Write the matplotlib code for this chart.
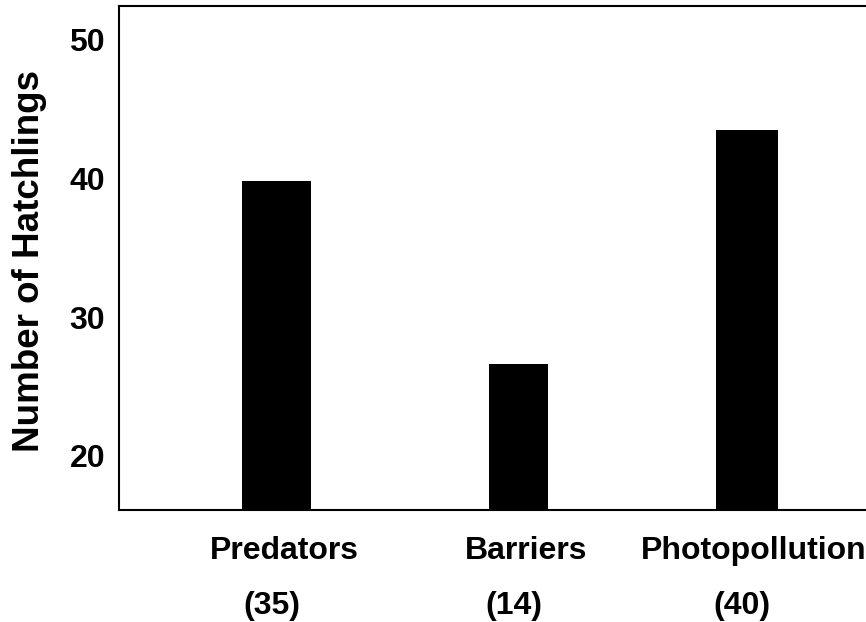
import matplotlib.pyplot as plt
import matplotlib.transforms as mtransforms

# Data
categories = ['Predators', 'Barriers', 'Photopollution']
counts = ['(35)', '(14)', '(40)']
hatchlings = [39.8, 26.6, 43.5]
y_ticks = [20, 30, 40, 50]

plt.rcParams['font.family'] = ['Liberation Sans', 'DejaVu Sans']
plt.rcParams['font.weight'] = 'bold'

fig = plt.figure(figsize=(8.66, 6.22), dpi=100)
# axes runs off the right edge of the figure as in the original
ax = fig.add_axes([119 / 866, 1 - 510 / 622, (870 - 119) / 866, (510 - 6) / 622])

bar_pos = [0.0, 1.0, 1.944]
bar_w = [0.284, 0.241, 0.256]
ax.bar(bar_pos, hatchlings, width=bar_w, color='black', bottom=0)

ax.set_xlim(-0.652, 2.454)
ax.set_ylim(16.1, 52.4)

ax.set_yticks(y_ticks)
ax.set_yticklabels([str(t) for t in y_ticks], fontsize=23, fontweight='bold')
ax.tick_params(axis='y', length=0, pad=10)

ax.set_xticks([p + 0.03 for p in bar_pos])
ax.set_xticklabels(categories, fontsize=23, fontweight='bold')
ax.tick_params(axis='x', length=0, pad=19)

# sample sizes below category names
trans = mtransforms.blended_transform_factory(ax.transData, ax.transAxes)
for p, c in zip(bar_pos, counts):
    ax.text(p - 0.02, -0.19, c, transform=trans, ha='center', va='center',
            fontsize=23, fontweight='bold')

ax.set_ylabel('Number of Hatchlings', fontsize=26.5, fontweight='bold')
ax.yaxis.set_label_coords(-0.096, 0.495)

for s in ['left', 'top', 'bottom']:
    ax.spines[s].set_linewidth(1.5)
ax.spines['right'].set_visible(False)

plt.savefig('out.png', dpi=100)
